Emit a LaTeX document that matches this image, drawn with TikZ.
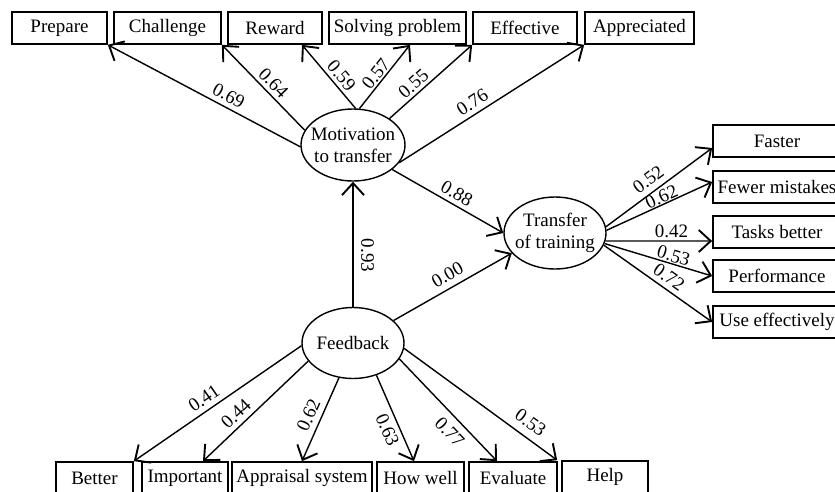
\documentclass[tikz,border=0pt]{standalone}
\usepackage{fontspec}
\setmainfont{Liberation Serif}
\usetikzlibrary{arrows.meta,shapes.geometric}
\begin{document}
\begin{tikzpicture}[x=1pt,y=-1pt,
  font=\fontsize{19}{22}\selectfont,
  box/.style={draw, line width=1.7pt, minimum height=32pt, inner sep=0pt},
  lat/.style={draw, ellipse, line width=1.4pt, inner xsep=-12pt, inner ysep=0pt, align=center},
  arr/.style={line width=1.4pt, -{Straight Barb[length=12pt,width=22pt,line width=1.9pt]}},
  lab/.style={sloped, inner sep=#1},
  lab/.default=3pt
]
\useasboundingbox (0,0) rectangle (835,491);
\clip (0,0) rectangle (835,491);
% top indicators
\node[box, minimum width=95pt]  (prep) at (59.5,28)  {Prepare};
\node[box, minimum width=107pt] (chal) at (167.5,28) {Challenge};
\node[box, minimum width=94pt]  (rew)  at (275,28)   {Reward};
\node[box, minimum width=137pt] (sol)  at (397.5,28) {Solving problem};
\node[box, minimum width=104pt] (eff)  at (525,28)   {Effective};
\node[box, minimum width=109pt] (appr) at (639.5,28) {Appreciated};
% right indicators
\node[box, minimum width=128pt] (fast) at (777,141) {Faster};
\node[box, minimum width=128pt] (few)  at (777,187) {Fewer mistakes};
\node[box, minimum width=128pt] (task) at (777,232) {Tasks better};
\node[box, minimum width=128pt] (perf) at (777,276) {Performance};
\node[box, minimum width=128pt] (use)  at (777,322) {Use effectively};
% bottom indicators
\node[box, minimum width=77pt]  (bet)  at (94.5,478)  {Better};
\node[box, minimum width=86pt]  (imp)  at (185,478)   {Important};
\node[box, minimum width=140pt] (aps)  at (302,478)   {Appraisal system};
\node[box, minimum width=87pt]  (how)  at (420.5,478) {How well};
\node[box, minimum width=88pt]  (eva)  at (513,478)   {Evaluate};
\node[box, minimum width=86pt]  (help) at (605,477)   {Help};
% latent variables
\node[lat, minimum width=104pt, minimum height=72pt] (mot) at (353,145) {Motivation\\to transfer};
\node[lat, minimum width=102pt, minimum height=72pt] (tr)  at (555,233) {Transfer\\of training};
\node[lat, minimum width=102pt, minimum height=71pt] (fb)  at (353,343) {Feedback};
% motivation paths
\draw[arr] (mot.182) -- (prep.south east) node[lab=4.4pt,pos=.40,above]{0.69};
\draw[arr] (mot.163) -- (chal.south east) node[lab=3.6pt,pos=.47,above]{0.64};
\draw[arr] (mot.86) -- ([xshift=27pt]rew.south) node[lab=3.3pt,pos=.41,above]{0.59};
\draw[arr] (mot.80) -- ([xshift=12.5pt]sol.south) node[lab=1.5pt,pos=.46,above]{0.57};
\draw[arr] (mot.36) -- (eff.south west) node[lab=2.9pt,pos=.37,above]{0.55};
\draw[arr] (mot.-21) -- (appr.south west) node[lab=4.8pt,pos=.43,above]{0.76};
% structural paths
\draw[arr] (mot.-32) -- (tr.west) node[lab=4.3pt,pos=.53,above]{0.88};
\draw[arr] (fb.29) -- (tr.205) node[lab=5.8pt,pos=.51,above]{0.00};
\draw[arr] (fb.north) -- (mot.south) node[pos=.41, rotate=-90, anchor=south, inner sep=7.5pt]{0.93};
% transfer paths
\draw[arr] (tr.7) -- ([yshift=-7pt]fast.west) node[lab=5.5pt,pos=.47,above]{0.52};
\draw[arr] (tr.3) -- ([yshift=5pt]few.west) node[lab=0.5pt,pos=.55,above]{0.62};
\draw[arr] (tr.-9) -- ([yshift=-9pt]task.west) node[lab=2.5pt,pos=.62,above]{0.42};
\draw[arr] (tr.-12) -- (perf.west) node[lab=1pt,pos=.62,above]{0.53};
\draw[arr] (tr.-14) -- (use.west) node[lab=4.5pt,pos=.54,above]{0.72};
% feedback paths
\draw[arr] (fb.183) -- (bet.north east) node[lab=5pt,pos=.54,above]{0.41};
\draw[arr] (fb.202) -- ([xshift=18pt]imp.north) node[lab=4.6pt,pos=.61,above]{0.44};
\draw[arr] (fb.248) -- (aps.north) node[lab=5.5pt,pos=.51,above]{0.62};
\draw[arr] (fb.-54) -- ([xshift=-6.5pt]how.north) node[lab=4.6pt,pos=.58,below]{0.63};
\draw[arr] (fb.-19) -- ([xshift=-16pt]eva.north) node[lab=7pt,pos=.62,below]{0.77};
\draw[arr] (fb.-6) -- ([xshift=-4pt]help.north west) node[lab=7.5pt,pos=.77,above]{0.53};
\end{tikzpicture}
\end{document}
